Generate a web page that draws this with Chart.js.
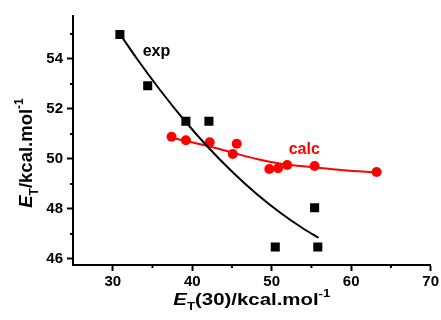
<!DOCTYPE html>
<html>
<head>
<meta charset="utf-8">
<script src="https://cdn.jsdelivr.net/npm/chart.js@4"></script>
<style>
  body { margin: 0; background: #fff; }
  #wrap { width: 441px; height: 320px; }
</style>
</head>
<body>
<div id="wrap"><canvas id="myChart"></canvas></div>
<script>
// measured points
const expX = [30.9, 34.4, 39.2, 42.1, 55.4, 50.45, 55.8];
const expY = [54.98, 52.93, 51.51, 51.51, 48.05, 46.48, 46.48];
const calcX = [37.4, 39.2, 42.2, 45.6, 45.1, 49.7, 50.8, 51.95, 55.4, 63.2];
const calcY = [50.89, 50.75, 50.67, 50.61, 50.2, 49.6, 49.63, 49.76, 49.72, 49.48];

// fitted curves
const expFitX = [30.9, 33, 36, 39, 42, 45, 48, 51, 54, 55.9];
const expFitY = [55.0, 54.03, 52.74, 51.55, 50.47, 49.5, 48.63, 47.87, 47.21, 46.85];
const calcFitX = [36.9, 39.2, 42.1, 45.1, 48.4, 51.0, 55.5, 59.0, 63.2];
const calcFitY = [50.88, 50.72, 50.51, 50.25, 49.98, 49.82, 49.66, 49.55, 49.46];

const xMajor = [30, 40, 50, 60, 70];
const xMinor = [35, 45, 55, 65];
const yMajor = [46, 48, 50, 52, 54];
const yMinor = [47, 49, 51, 53, 55];

const seriesLabels = ['exp', 'calc'];
const labelPos = [[35.5, 54.28], [54.1, 50.36]];
const seriesColors = ['#000000', '#ff0000'];

function pts(xs, ys) {
    return xs.map((x, i) => ({ x: x, y: ys[i] }));
}

// draws text with italic / sub / sup pieces, centred on 0
function drawRich(ctx, parts, size) {
    const fontOf = p => (p.italic ? 'italic ' : '') + 'bold ' + (p.sub || p.sup ? size * 0.65 : size) + 'px "Liberation Sans", Arial, sans-serif';
    let total = 0;
    parts.forEach(p => { ctx.font = fontOf(p); total += ctx.measureText(p.t).width; });
    let x = -total / 2;
    parts.forEach(p => {
        ctx.font = fontOf(p);
        let dy = 0;
        if (p.sub) dy = size * 0.3;
        if (p.sup) dy = -size * 0.48;
        ctx.fillText(p.t, x, dy);
        x += ctx.measureText(p.t).width;
    });
}

const extras = {
    id: 'extras',
    afterDraw(chart) {
        const ctx = chart.ctx;
        const xs = chart.scales.x, ys = chart.scales.y;
        ctx.save();
        ctx.strokeStyle = '#000';
        ctx.lineWidth = 2;
        // minor ticks
        ctx.beginPath();
        xMinor.forEach(v => {
            const px = xs.getPixelForValue(v);
            ctx.moveTo(px, ys.bottom);
            ctx.lineTo(px, ys.bottom + 3);
        });
        yMinor.forEach(v => {
            const py = ys.getPixelForValue(v);
            ctx.moveTo(xs.left, py);
            ctx.lineTo(xs.left - 3, py);
        });
        ctx.stroke();

        // series labels
        ctx.textAlign = 'center';
        ctx.textBaseline = 'middle';
        ctx.font = 'bold 16px "Liberation Sans", Arial, sans-serif';
        seriesLabels.forEach((t, i) => {
            ctx.fillStyle = seriesColors[i];
            ctx.fillText(t, xs.getPixelForValue(labelPos[i][0]), ys.getPixelForValue(labelPos[i][1]));
        });

        // axis titles
        ctx.fillStyle = '#000';
        ctx.textAlign = 'left';
        ctx.textBaseline = 'alphabetic';
        ctx.save();
        ctx.translate((xs.left + xs.right) / 2, 305);
        ctx.scale(1.2, 1);
        drawRich(ctx, [{ t: 'E', italic: true }, { t: 'T', sub: true }, { t: '(30)/kcal.mol' }, { t: '-1', sup: true }], 17);
        ctx.restore();

        ctx.save();
        ctx.translate(32, 153);
        ctx.rotate(-Math.PI / 2);
        drawRich(ctx, [{ t: 'E', italic: true }, { t: 'T', sub: true }, { t: '/kcal.mol' }, { t: '-1', sup: true }], 18.5);
        ctx.restore();

        ctx.restore();
    }
};

const tickFont = { family: '"Liberation Sans", Arial, sans-serif', size: 15, weight: 'bold' };

new Chart('myChart', {
    type: 'scatter',
    data: {
        datasets: [
            {
                label: 'exp',
                data: pts(expX, expY),
                pointStyle: 'rect',
                pointRadius: 6.4,
                backgroundColor: '#000',
                borderWidth: 0,
                order: 1
            },
            {
                label: 'exp fit',
                data: pts(expFitX, expFitY),
                showLine: true,
                pointRadius: 0,
                borderColor: '#000',
                borderWidth: 2,
                cubicInterpolationMode: 'monotone',
                order: 0
            },
            {
                label: 'calc',
                data: pts(calcX, calcY),
                pointStyle: 'circle',
                pointRadius: 5,
                backgroundColor: '#ff0000',
                borderWidth: 0,
                order: 3
            },
            {
                label: 'calc fit',
                data: pts(calcFitX, calcFitY),
                showLine: true,
                pointRadius: 0,
                borderColor: '#ff0000',
                borderWidth: 2,
                cubicInterpolationMode: 'monotone',
                order: 2
            }
        ]
    },
    options: {
        responsive: true,
        maintainAspectRatio: false,
        animation: false,
        layout: { padding: { top: 16, right: 8, left: 0, bottom: 0 } },
        plugins: {
            legend: { display: false },
            tooltip: { enabled: false }
        },
        scales: {
            x: {
                type: 'linear',
                min: 25,
                max: 70,
                afterFit: s => { s.height = 55; },
                border: { display: true, color: '#000', width: 2 },
                grid: {
                    drawOnChartArea: false,
                    drawTicks: true,
                    tickLength: 6,
                    tickWidth: 2,
                    tickColor: c => xMajor.includes(c.tick && c.tick.value) ? '#000' : 'rgba(0,0,0,0)'
                },
                ticks: {
                    stepSize: 5,
                    includeBounds: false,
                    maxRotation: 0,
                    autoSkip: false,
                    padding: 2,
                    color: '#000',
                    font: tickFont,
                    callback: v => xMajor.includes(v) ? String(v) : ''
                }
            },
            y: {
                min: 45.76,
                max: 55.72,
                afterFit: s => { s.width = 73; },
                border: { display: true, color: '#000', width: 2 },
                grid: {
                    drawOnChartArea: false,
                    drawTicks: true,
                    tickLength: 6,
                    tickWidth: 2,
                    tickColor: c => yMajor.includes(c.tick && c.tick.value) ? '#000' : 'rgba(0,0,0,0)'
                },
                ticks: {
                    stepSize: 1,
                    includeBounds: false,
                    autoSkip: false,
                    padding: 4,
                    color: '#000',
                    font: tickFont,
                    callback: v => yMajor.includes(v) ? String(v) : ''
                }
            }
        }
    },
    plugins: [extras]
});
</script>
</body>
</html>
